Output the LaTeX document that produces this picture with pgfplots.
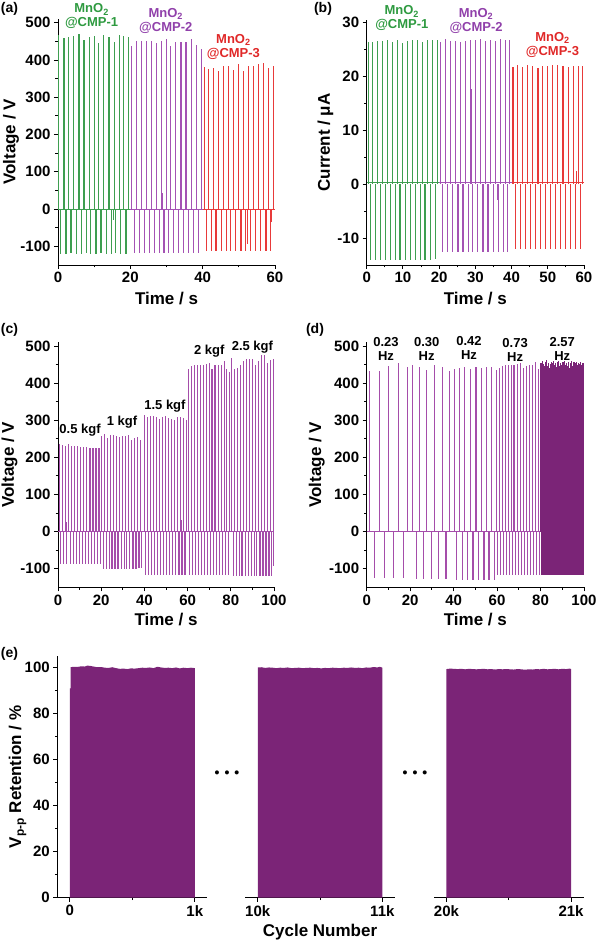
\documentclass[border=0pt]{standalone}
\usepackage{pgfplots}
\pgfplotsset{compat=1.18}
\usepackage{fontspec}
\setmainfont{Liberation Sans}
\definecolor{lgreen}{HTML}{3E9E50}
\definecolor{tgreen}{HTML}{2E9A40}
\definecolor{lpurple}{HTML}{A452B4}
\definecolor{tpurple}{HTML}{9040AA}
\definecolor{lred}{HTML}{E83A3A}
\definecolor{tred}{HTML}{E02828}
\definecolor{lmag}{HTML}{A54DAA}
\definecolor{dpurp}{HTML}{7B2477}
\pgfplotsset{
  base/.style={
    scale only axis, anchor=south west, clip=false,
    axis lines=left, axis line style={-, line width=0.9pt, black},
    tick align=outside, major tick length=4pt, minor tick length=2.5pt,
    tick style={black, line width=0.9pt},
    /pgf/number format/assume math mode=true,
    tick label style={font=\fontsize{15}{15}\selectfont\bfseries},
    label style={font=\fontsize{17}{18}\selectfont\bfseries},
    scaled ticks=false,
  },
  spike/.style={ycomb, mark=none, line width=1.1pt},
}
\tikzset{ann/.style={font=\fontsize{13}{14}\selectfont\bfseries, align=center}}
\begin{document}
\begin{tikzpicture}
\useasboundingbox (0,0) rectangle (600pt,944pt);
% ---------------- (a)
\begin{axis}[base, at={(58pt,679pt)}, width=217pt, height=246pt,
  xmin=0, xmax=60, ymin=-150, ymax=510,
  xtick={0,20,40,60}, minor xtick={10,30,50},
  ytick={-100,0,...,500}, minor ytick={-50,50,...,450},
  xlabel={Time / s}, ylabel={Voltage / V},
  xlabel style={at={(axis description cs:0.5,-0.138)}, anchor=center},
  ylabel style={at={(axis description cs:-0.217,0.5)}, anchor=center}]
\addplot[lgreen, line width=1pt] coordinates {(0,0) (20,0)};
\addplot[lpurple, line width=1pt] coordinates {(20,0) (40,0)};
\addplot[lred, line width=1pt] coordinates {(40,0) (60,0)};
\addplot[spike, lgreen] coordinates {(0.1,467)(1.66,458)(2.86,462)(4.24,464)(5.8,471)(7.2,454)(8.7,461)(10.0,464)(11.3,445)(12.7,467)(14.1,461)(15.5,449)(16.9,467)(18.2,464)(19.4,462)
 (0.8,-120)(2.2,-120)(3.6,-119)(5.0,-120)(6.4,-120)(7.8,-119)(9.1,-120)(10.5,-120)(11.2,62)(11.9,-119)(13.3,-120)(14.7,-120)(15.3,-30)(16.0,-119)(17.4,-120)(18.8,-120)};
\addplot[spike, lpurple] coordinates {(20.4,438)(21.7,450)(23.1,450)(24.5,450)(25.9,450)(27.3,445)(28.6,452)(29.9,457)(31.2,438)(32.6,448)(34.0,448)(35.4,448)(36.8,457)(38.2,441)(39.6,430)
 (21.1,-117)(21.8,81)(22.5,-117)(23.8,-117)(25.2,-117)(26.6,-117)(28.0,-117)(29.0,43)(29.3,-117)(30.6,-117)(31.9,-117)(33.3,-117)(34.7,-117)(35.3,32)(36.1,-117)(37.5,-117)(38.9,-117)};
\addplot[spike, lred] coordinates {(40.4,382)(41.6,376)(43.0,378)(44.4,371)(45.7,385)(47.1,385)(48.5,373)(49.9,388)(51.2,371)(52.6,385)(54.0,385)(55.4,389)(56.8,391)(58.1,378)(59.5,384)
 (41.1,-113)(42.4,-113)(43.7,-113)(45.1,-113)(46.5,-113)(47.8,-113)(49.2,-113)(50.6,-113)(51.9,-113)(52.3,-95)(53.3,-113)(54.7,-113)(56.1,-113)(57.5,-113)(58.8,-113)(59.0,-35)};
\node[ann, text=tgreen] at (axis cs:9.3,517) {MnO\textsubscript{2}\\@CMP-1};
\node[ann, text=tpurple] at (axis cs:29.8,505) {MnO\textsubscript{2}\\@CMP-2};
\node[ann, text=tred] at (axis cs:48.5,436) {MnO\textsubscript{2}\\@CMP-3};
\end{axis}
% ---------------- (b)
\begin{axis}[base, at={(366.7pt,679pt)}, width=217.3pt, height=245pt,
  xmin=0, xmax=60, ymin=-15, ymax=30.5,
  xtick={0,10,...,60}, minor xtick={5,15,...,55},
  ytick={-10,0,10,20,30}, minor ytick={-5,5,15,25},
  xlabel={Time / s}, ylabel={Current / μA},
  xlabel style={at={(axis description cs:0.5,-0.138)}, anchor=center},
  ylabel style={at={(axis description cs:-0.19,0.5)}, anchor=center}]
\addplot[lgreen, line width=1pt] coordinates {(0,0.4) (20,0.4)};
\addplot[lpurple, line width=1pt] coordinates {(20,0.4) (40,0.4)};
\addplot[lred, line width=1pt] coordinates {(40,0.4) (60,0.4)};
\addplot[spike, lgreen] coordinates {(0.46,26.4)(1.66,26.5)(2.95,26.6)(4.34,26.6)(5.72,26.8)(7.1,26.5)(8.5,26.7)(9.9,26.3)(11.3,26.6)(12.6,26.8)(14.0,26.7)(15.4,26.5)(16.8,26.7)(18.2,26.7)(19.6,26.8)
 (1.1,-14.0)(2.4,-14.0)(3.7,-14.0)(5.1,-14.0)(6.5,-14.0)(7.9,-14.1)(9.2,-14.0)(10.6,-14.0)(12.0,-14.0)(13.4,-14.1)(14.8,-14.0)(16.1,-14.0)(17.5,-14.0)(18.9,-13.8)};
\addplot[spike, lpurple] coordinates {(20.3,26.4)(21.7,26.9)(23.1,26.6)(24.5,26.6)(25.9,26.5)(27.3,26.6)(28.6,26.8)(29.0,17.6)(30.0,26.8)(31.4,27.0)(32.8,26.6)(34.2,26.7)(35.6,26.6)(37.0,26.9)(38.4,26.7)(39.4,26.7)
 (21.0,-12.6)(22.4,-12.6)(23.8,-12.6)(25.2,-12.6)(26.6,-12.6)(28.0,-12.6)(29.3,-12.6)(30.7,-12.6)(32.1,-12.6)(33.5,-12.6)(34.9,-12.6)(36.0,-3.0)(36.3,-12.6)(36.9,2.0)(37.7,-12.6)(39.0,-12.6)};
\addplot[spike, lred] coordinates {(40.4,21.8)(41.7,22.1)(43.1,21.7)(44.5,22.2)(45.9,21.9)(47.3,21.6)(48.6,22.0)(50.0,21.9)(51.4,22.1)(52.8,22.1)(54.2,21.9)(55.6,21.7)(57.0,21.9)(58.4,22.0)(59.6,21.9)
 (41.1,-12.1)(42.4,-12.1)(43.8,-12.1)(45.2,-12.1)(46.6,-12.1)(48.0,-12.1)(49.3,-12.1)(50.7,-12.1)(52.1,-12.1)(53.5,-12.1)(54.9,-12.1)(56.3,-12.1)(57.6,-12.1)(58.0,2.4)(59.0,-12.1)};
\node[ann, text=tgreen] at (axis cs:9.7,30.8) {MnO\textsubscript{2}\\@CMP-1};
\node[ann, text=tpurple] at (axis cs:30.2,30.4) {MnO\textsubscript{2}\\@CMP-2};
\node[ann, text=tred] at (axis cs:51.3,25.9) {MnO\textsubscript{2}\\@CMP-3};
\end{axis}
% ---------------- (c)
\begin{axis}[base, at={(58pt,356.7pt)}, width=216pt, height=245pt,
  xmin=0, xmax=100, ymin=-150, ymax=510,
  xtick={0,20,...,100}, minor xtick={10,30,...,90},
  ytick={-100,0,...,500}, minor ytick={-50,50,...,450},
  xlabel={Time / s}, ylabel={Voltage / V},
  xlabel style={at={(axis description cs:0.5,-0.133)}, anchor=center},
  ylabel style={at={(axis description cs:-0.225,0.5)}, anchor=center}]
\addplot[lmag, line width=1pt] coordinates {(0,0) (100,0)};
\addplot[spike, lmag] coordinates {(0.6,235)(2.0,233)(3.4,231)(4.9,235)(6.3,230)(7.7,230)(9.1,231)(10.5,227)(12.0,228)(13.4,228)(14.8,226)(16.2,225)(17.6,224)(19.0,225)
 (1.3,-87)(2.7,-87)(3.9,25)(4.1,-87)(5.6,-87)(7.0,-86)(8.4,-87)(9.8,-87)(11.2,-86)(12.7,-87)(14.1,-87)(15.5,-86)(16.9,-87)(18.3,-87)(19.7,-87)
 (20.2,258)(21.6,262)(23.0,253)(24.3,259)(25.7,261)(27.1,257)(28.5,256)(29.9,258)(31.2,258)(32.6,259)(34.0,247)(35.4,251)(36.8,255)(38.1,247)
 (20.9,-100)(21.4,30)(22.3,-100)(23.7,-100)(25.0,-101)(26.4,-100)(27.8,-100)(29.2,-100)(30.6,-100)(31.9,-100)(33.3,-100)(34.7,-100)(36.1,-100)(37.5,-99)(38.8,-99)
 (39.9,313)(41.3,309)(42.7,311)(44.1,311)(45.5,310)(46.9,304)(48.3,310)(49.7,311)(51.1,306)(52.5,303)(53.9,300)(55.3,308)(56.7,308)(58.1,306)(59.5,302)
 (40.6,-117)(42.0,-117)(43.4,-116)(44.8,-117)(46.2,-117)(47.6,-117)(49.0,-116)(50.4,-117)(51.8,-117)(53.2,-117)(54.6,-116)(56.0,-117)(57.0,32)(57.4,-117)(58.8,-117)
 (60.3,437)(61.7,446)(63.1,448)(64.4,449)(65.8,449)(67.2,448)(68.6,452)(70.0,455)(71.3,437)(72.7,450)(74.1,448)(75.5,448)(76.9,460)(78.2,437)(79.6,430)
 (61.0,-118)(62.4,-118)(63.8,-118)(65.1,-118)(66.5,-118)(67.9,-118)(69.3,-118)(70.7,-118)(72.0,-118)(73.4,-118)(74.8,-118)(76.2,-118)(77.6,-118)(78.9,-118)
 (80.4,468)(81.8,438)(83.2,442)(84.5,448)(85.9,460)(87.3,465)(88.7,465)(90.1,464)(91.4,450)(92.8,460)(94.2,477)(95.6,475)(97.0,454)(98.3,462)(99.7,465)
 (81.1,-120)(82.5,-120)(83.9,-120)(85.2,-120)(86.6,-120)(88.0,-120)(89.4,-120)(90.8,-120)(92.1,-120)(93.5,-120)(94.9,-120)(96.3,-120)(97.7,-120)(99.0,-120)(99.6,-92)};
\node[ann] at (axis cs:10.2,274) {0.5 kgf};
\node[ann] at (axis cs:29.6,296) {1 kgf};
\node[ann] at (axis cs:49.5,338) {1.5 kgf};
\node[ann] at (axis cs:70,485) {2 kgf};
\node[ann] at (axis cs:90,496) {2.5 kgf};
\end{axis}
% ---------------- (d)
\begin{axis}[base, at={(366.7pt,356.7pt)}, width=217.3pt, height=245pt,
  xmin=0, xmax=100, ymin=-150, ymax=510,
  xtick={0,20,...,100}, minor xtick={10,30,...,90},
  ytick={-100,0,...,500}, minor ytick={-50,50,...,450},
  xlabel={Time / s}, ylabel={Voltage / V},
  xlabel style={at={(axis description cs:0.5,-0.133)}, anchor=center},
  ylabel style={at={(axis description cs:-0.23,0.5)}, anchor=center}]
\addplot[lmag, line width=1pt] coordinates {(0,0) (80,0)};
\addplot[spike, lmag] coordinates {(1.2,434)(5.7,433)(10.2,447)(14.5,453)(18.9,444)
 (3.5,-124)(8.0,-124)(12.5,-125)(16.8,-125)
 (21.2,449)(24.3,444)(27.7,435)(31.4,449)(34.8,444)(38.2,433)
 (22.9,-127)(26.3,-127)(29.7,-128)(33.2,-127)(36.5,-127)
 (40.3,437)(42.8,440)(45.2,444)(47.7,437)(50.3,444)(52.8,440)(55.1,444)(57.4,444)
 (41.5,-131)(44.0,-131)(46.5,-130)(48.9,-131)(51.5,-131)(54.0,-130)(56.3,-131)(58.8,-131)
 (59.7,436)(61.1,441)(62.5,447)(63.8,449)(65.2,449)(66.6,450)(67.8,448)(69.2,452)(70.6,455)(72.0,440)(73.4,447)(74.8,448)(76.2,448)(77.5,458)(78.9,437)
 (60.3,-118)(61.7,-118)(63.1,-118)(64.5,-118)(65.8,-118)(67.2,-118)(68.6,-118)(70.0,-118)(71.4,-118)(72.8,-118)(74.2,-118)(75.5,-118)(76.9,-118)(78.3,-118)(79.7,-118)};
\addplot[spike, dpurp] coordinates {(80.20,455)(80.59,448)(80.98,460)(81.37,452)(81.76,445)(82.15,458)(82.54,450)(82.93,462)(83.32,447)(83.71,455)(84.10,440)(84.49,452)(84.88,458)(85.27,446)(85.66,455)(86.05,460)(86.44,449)(86.83,453)(87.22,444)(87.61,457)(88.00,451)(88.39,459)(88.78,446)(89.17,455)(89.56,450)(89.95,443)(90.34,456)(90.73,452)(91.12,460)(91.51,448)(91.90,454)(92.29,445)(92.68,457)(93.07,450)(93.46,441)(93.85,455)(94.24,459)(94.63,447)(95.02,452)(95.41,456)(95.80,444)(96.19,453)(96.58,458)(96.97,449)(97.36,455)(97.75,446)(98.14,452)(98.53,457)(98.92,450)(99.31,455)(99.70,454)
 (80.39,-117)(80.78,-117)(81.17,-117)(81.56,-117)(81.95,-117)(82.34,-117)(82.73,-117)(83.12,-117)(83.51,-117)(83.90,-117)(84.29,-117)(84.68,-117)(85.07,-117)(85.46,-117)(85.85,-117)(86.24,-117)(86.63,-117)(87.02,-117)(87.41,-117)(87.80,-117)(88.19,-117)(88.58,-117)(88.97,-117)(89.36,-117)(89.75,-117)(90.14,-117)(90.53,-117)(90.92,-117)(91.31,-117)(91.70,-117)(92.09,-117)(92.48,-117)(92.87,-117)(93.26,-117)(93.65,-117)(94.04,-117)(94.43,-117)(94.82,-117)(95.21,-117)(95.60,-117)(95.99,-117)(96.38,-117)(96.77,-117)(97.16,-117)(97.55,-117)(97.94,-117)(98.33,-117)(98.72,-117)(99.11,-117)(99.50,-117)(99.85,-117)};
\node[ann] at (axis cs:8.9,492) {0.23\\Hz};
\node[ann] at (axis cs:27.6,492) {0.30\\Hz};
\node[ann] at (axis cs:47.1,494) {0.42\\Hz};
\node[ann] at (axis cs:68.3,490) {0.73\\Hz};
\node[ann] at (axis cs:90,492) {2.57\\Hz};
\end{axis}
% ---------------- (e)
\begin{axis}[base, at={(57.3pt,46.3pt)}, width=150pt, height=241.5pt,
  xmin=-100, xmax=1100, ymin=0, ymax=105,
  xtick={0,1000}, xticklabels={0,1k}, minor xtick={500},
  ytick={0,20,...,100}, minor ytick={10,30,...,90},
  ylabel={V\textsubscript{p-p} Retention / \%},
  ylabel style={at={(axis description cs:-0.265,0.5)}, anchor=center}]
\addplot[fill=dpurp, draw=none] coordinates {(0,0)(0,91)(6,91)(6,100.2)(30,100.4)(60,100.3)(90,100.6)(120,100.5)(140,100.9)(160,100.8)(190,100.5)(220,100.2)(250,100.3)(280,100.0)(310,99.9)(340,100.2)(370,99.8)(400,99.5)(430,99.6)(460,99.4)(490,99.7)(520,99.6)(550,99.8)(580,100.0)(610,99.9)(640,100.1)(670,99.8)(700,100.4)(730,100.1)(760,99.9)(790,100.0)(820,99.8)(850,100.1)(880,99.7)(910,100.0)(940,99.8)(970,100.0)(1000,99.8)(1000,0)};
\end{axis}
\begin{axis}[base, at={(245.3pt,46.3pt)}, width=149.5pt, height=241.5pt,
  axis y line=none,
  xmin=9900, xmax=11100, ymin=0, ymax=105,
  xtick={10000,11000}, xticklabels={10k,11k}, minor xtick={10500},
  xlabel={Cycle Number},
  xlabel style={at={(axis description cs:0.5,-0.142)}, anchor=center}]
\addplot[fill=dpurp, draw=none] coordinates {(10000,0)(10000,100.1)(10030,100.2)(10060,99.9)(10090,100.1)(10120,100.0)(10150,99.8)(10180,100.0)(10210,99.9)(10240,100.1)(10270,99.8)(10300,99.9)(10330,100.0)(10360,99.8)(10390,99.9)(10420,100.0)(10450,99.8)(10480,99.9)(10510,99.7)(10540,99.9)(10570,99.8)(10600,100.0)(10630,99.9)(10660,99.8)(10690,100.0)(10720,99.9)(10750,100.1)(10780,99.9)(10810,100.0)(10840,99.8)(10870,100.1)(10900,100.0)(10930,100.3)(10960,100.1)(10980,100.4)(11000,100.0)(11000,0)};
\end{axis}
\begin{axis}[base, at={(434pt,46.3pt)}, width=149.5pt, height=241.5pt,
  axis y line=none,
  xmin=19900, xmax=21100, ymin=0, ymax=105,
  xtick={20000,21000}, xticklabels={20k,21k}, minor xtick={20500}]
\addplot[fill=dpurp, draw=none] coordinates {(20000,0)(20000,99.4)(20030,99.6)(20060,99.5)(20090,99.4)(20120,99.5)(20150,99.3)(20180,99.5)(20210,99.4)(20240,99.3)(20270,99.4)(20300,99.5)(20330,99.3)(20360,99.4)(20390,99.2)(20420,99.4)(20450,99.3)(20480,99.4)(20510,99.3)(20540,99.2)(20570,99.4)(20600,99.3)(20630,99.1)(20660,99.3)(20690,99.2)(20720,99.4)(20750,99.3)(20780,99.5)(20810,99.3)(20840,99.4)(20870,99.5)(20900,99.3)(20930,99.5)(20960,99.4)(20990,99.6)(21000,99.4)(21000,0)};
\end{axis}
% panel letters and breaks
\node[font=\fontsize{14}{15}\selectfont\bfseries] at (9.5pt,935pt) {(a)};
\node[font=\fontsize{14}{15}\selectfont\bfseries] at (323pt,935pt) {(b)};
\node[font=\fontsize{14}{15}\selectfont\bfseries] at (9.5pt,614pt) {(c)};
\node[font=\fontsize{14}{15}\selectfont\bfseries] at (315pt,614pt) {(d)};
\node[font=\fontsize{14}{15}\selectfont\bfseries] at (9.5pt,290pt) {(e)};
\node[font=\fontsize{14}{15}\selectfont\bfseries] at (227pt,170pt) {\textbullet\kern5pt\textbullet\kern5pt\textbullet};
\node[font=\fontsize{14}{15}\selectfont\bfseries] at (415pt,170pt) {\textbullet\kern5pt\textbullet\kern5pt\textbullet};
\end{tikzpicture}
\end{document}
